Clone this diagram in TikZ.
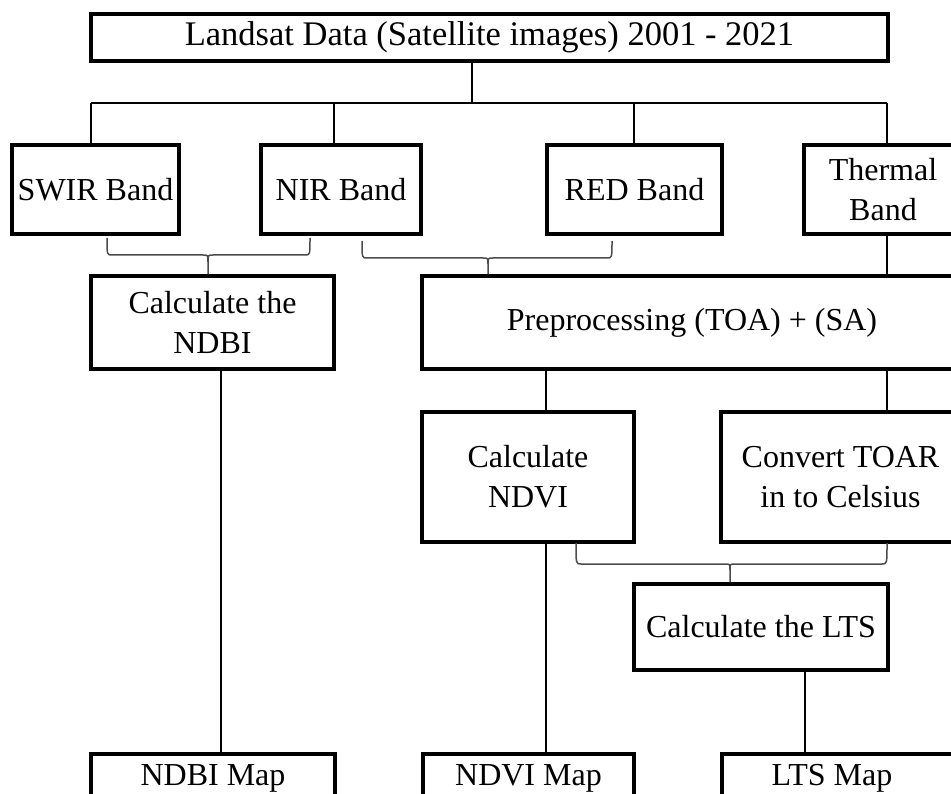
\documentclass[tikz,border=0pt]{standalone}
\usepackage{fontspec}
\setmainfont{Liberation Serif}
\begin{document}
\begin{tikzpicture}[x=1pt,y=-1pt,
  box/.style={draw, line width=3.2pt, align=center, inner sep=0pt,
    font=\fontsize{32}{40}\selectfont},
  conn/.style={line width=2.6pt},
  thinconn/.style={line width=1.2pt},
  brc/.style={line width=1.5pt, draw=black!70}]
\useasboundingbox (0,0) rectangle (951,794);
\clip (0,0) rectangle (951,794);
\fill[white] (0,0) rectangle (951,794);

% boxes
\node[box, line width=3.6pt, minimum width=797pt, minimum height=47pt, font=\fontsize{34.5}{40}\selectfont] (top) at (489.5,37.5) {Landsat Data (Satellite images) 2001 - 2021};
\node[box, minimum width=167pt, minimum height=89pt] (swir) at (95.5,189.5) {SWIR Band};
\node[box, minimum width=160pt, minimum height=89pt] (nir) at (341,189.5) {NIR Band};
\node[box, minimum width=175pt, minimum height=89pt] (red) at (634.5,189.5) {RED Band};
\node[box, minimum width=158pt, minimum height=89pt] (thermal) at (883,189.5) {Thermal\\Band};
\node[box, minimum width=243pt, minimum height=93pt] (ndbi) at (212.5,322.5) {Calculate the\\NDBI};
\node[box, minimum width=540pt, minimum height=93pt] (prep) at (692,322.5) {Preprocessing (TOA) + (SA)};
\node[box, minimum width=212pt, minimum height=130pt] (ndvi) at (528,477) {Calculate\\NDVI};
\node[box, minimum width=239pt, minimum height=130pt] (conv) at (840.5,477) {Convert TOAR\\in to Celsius};
\node[box, minimum width=254pt, minimum height=86pt] (lts) at (761,627) {Calculate the LTS};
\node[box, minimum width=244pt, minimum height=48pt] (ndbimap) at (213,778) {NDBI Map};
\node[box, minimum width=211pt, minimum height=48pt] (ndvimap) at (528.5,778) {NDVI Map};
\node[box, minimum width=240pt, minimum height=48pt] (ltsmap) at (842,778) {};
\node[font=\fontsize{32}{40}\selectfont, inner sep=0pt] (ltsmaptext) at (832,778) {LTS Map};

% x positions of connectors
\coordinate (xb1) at (91,103);
\coordinate (xb2) at (334,103);
\coordinate (xb3) at (634,103);
\coordinate (xb4) at (887,103);
\coordinate (xtop) at (472,103);
\coordinate (xndbi) at (221,0);
\coordinate (xndvi) at (546,0);
\coordinate (xth) at (887,0);
\coordinate (xlts) at (805,0);

% tree from top box
\draw[conn] (top.south -| xtop) -- (xtop);
\draw[conn] (xb1) -- (xb4);
\draw[conn] (xb1) -- (xb1 |- swir.north);
\draw[conn] (xb2) -- (xb2 |- nir.north);
\draw[conn] (xb3) -- (xb3 |- red.north);
\draw[conn] (xb4) -- (xb4 |- thermal.north);

% braces
\coordinate (b1l) at (107,238);
\coordinate (b1r) at (310,238);
\coordinate (b1m) at (208,255);
\draw[brc] (b1l) .. controls (107,255) .. (112,255) -- (203,255) .. controls (208,255) .. (208,262) -- (ndbi.north -| b1m);
\draw[brc] (b1r) .. controls (310,255) .. (305,255) -- (213,255) .. controls (208,255) .. (208,262);

\coordinate (b2l) at (362,241);
\coordinate (b2r) at (612,241);
\coordinate (b2m) at (488,258);
\draw[brc] (b2l) .. controls (362,258) .. (367,258) -- (483,258) .. controls (488,258) .. (488,264) -- (prep.north -| b2m);
\draw[brc] (b2r) .. controls (612,258) .. (607,258) -- (493,258) .. controls (488,258) .. (488,264);

\coordinate (b3l) at (576,543);
\coordinate (b3r) at (887,543);
\coordinate (b3m) at (730,564);
\draw[brc] (b3l) .. controls (576,564) .. (581,564) -- (725,564) .. controls (730,564) .. (730,570) -- (lts.north -| b3m);
\draw[brc] (b3r) .. controls (887,564) .. (882,564) -- (735,564) .. controls (730,564) .. (730,570);

% other connectors
\draw[conn] (thermal.south -| xth) -- (prep.north -| xth);
\draw[conn] (prep.south -| xndvi) -- (ndvi.north -| xndvi);
\draw[conn] (prep.south -| xth) -- (conv.north -| xth);
\draw[conn] (ndvi.south -| xndvi) -- (ndvimap.north -| xndvi);
\draw[thinconn] (ndbi.south -| xndbi) -- (ndbimap.north -| xndbi);
\draw[conn] (lts.south -| xlts) -- (ltsmap.north -| xlts);
\end{tikzpicture}
\end{document}
